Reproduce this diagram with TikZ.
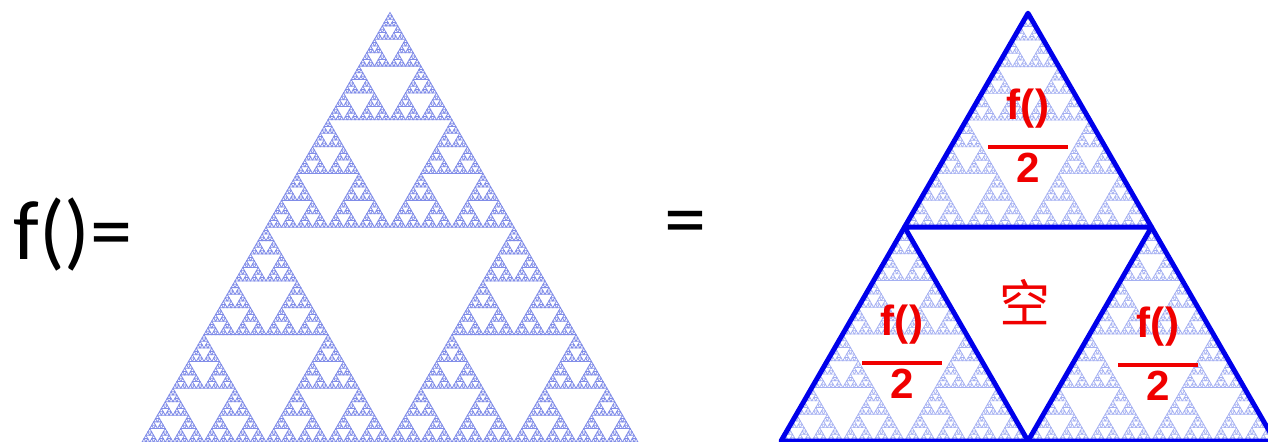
\documentclass[tikz,border=0pt]{standalone}
\usepackage{fontspec}
\setmainfont{Carlito}
\newfontfamily\labelfont{Liberation Sans}
\newfontfamily\cjk{Noto Sans CJK SC}
\usetikzlibrary{calc}

\definecolor{fracblue}{RGB}{128,140,232}
\definecolor{fracpale}{RGB}{165,176,242}
\definecolor{edgeblue}{RGB}{0,0,235}
\definecolor{labelred}{RGB}{240,0,0}

% sierpinski: depth, x, y (bottom left), side
\newcommand\sierp[4]{%
  \ifnum#1=0
    \draw[sier] (#2,#3) -- ++(#4,0) -- ++(-#4/2,#4*0.8660254) -- cycle;
  \else
    \begingroup
    \pgfmathsetmacro\shalf{#4/2}
    \pgfmathsetmacro\sxm{#2+\shalf}
    \pgfmathsetmacro\sxt{#2+\shalf/2}
    \pgfmathsetmacro\syt{#3+\shalf*0.8660254}
    \pgfmathtruncatemacro\sdd{#1-1}
    \edef\snext{\noexpand\sierp{\sdd}{#2}{#3}{\shalf}%
      \noexpand\sierp{\sdd}{\sxm}{#3}{\shalf}%
      \noexpand\sierp{\sdd}{\sxt}{\syt}{\shalf}}%
    \snext
    \endgroup
  \fi}

\newcommand\fhalf{\begin{tabular}{@{}c@{}}f()\\[-9pt]\rule{1.6cm}{2.3pt}\\[-7pt]2\end{tabular}}

\begin{document}
\begin{tikzpicture}[x=0.02cm, y=0.02cm,
    big/.style={font=\fontsize{48}{52}\selectfont, inner sep=0pt},
    half/.style={text=labelred, font=\labelfont\bfseries\fontsize{24}{26}\selectfont, inner sep=0pt},
    edge/.style={draw=edgeblue, line width=2.8pt, line join=round}]
    \useasboundingbox (0,0) rectangle (1268,442);

    % --- left: f() = ---
    \node[big] (lhs) at (73,207) {f()=};

    % --- whole gasket ---
    \begin{scope}[sier/.style={draw=fracblue, line width=0.45pt}]
        \sierp{7}{142}{0}{496}
    \end{scope}

    \node[big] (eq) at (685,213) {=};

    % --- right: three halves ---
    \begin{scope}[sier/.style={draw=fracpale, line width=0.4pt}]
        \sierp{7}{781}{1}{494}
    \end{scope}
    \coordinate (A) at (781,1);
    \coordinate (B) at (1275,1);
    \coordinate (C) at (1028,428.8);
    \coordinate (AB) at ($(A)!0.5!(B)$);
    \coordinate (BC) at ($(B)!0.5!(C)$);
    \coordinate (CA) at ($(C)!0.5!(A)$);
    \fill[white] (AB) -- (BC) -- (CA) -- cycle;
    \draw[edge] (A) -- (B) -- (C) -- cycle;
    \draw[edge] (AB) -- (BC) -- (CA) -- cycle;

    \node[half] (top) at (1028,300) {\fhalf};
    \node[half] (left) at (902,84) {\fhalf};
    \node[half] (right) at (1158,82) {\fhalf};
    \node[text=labelred, font=\cjk\fontsize{29}{31}\selectfont, inner sep=0pt] (hole) at (1025,140) {空};
\end{tikzpicture}
\end{document}
